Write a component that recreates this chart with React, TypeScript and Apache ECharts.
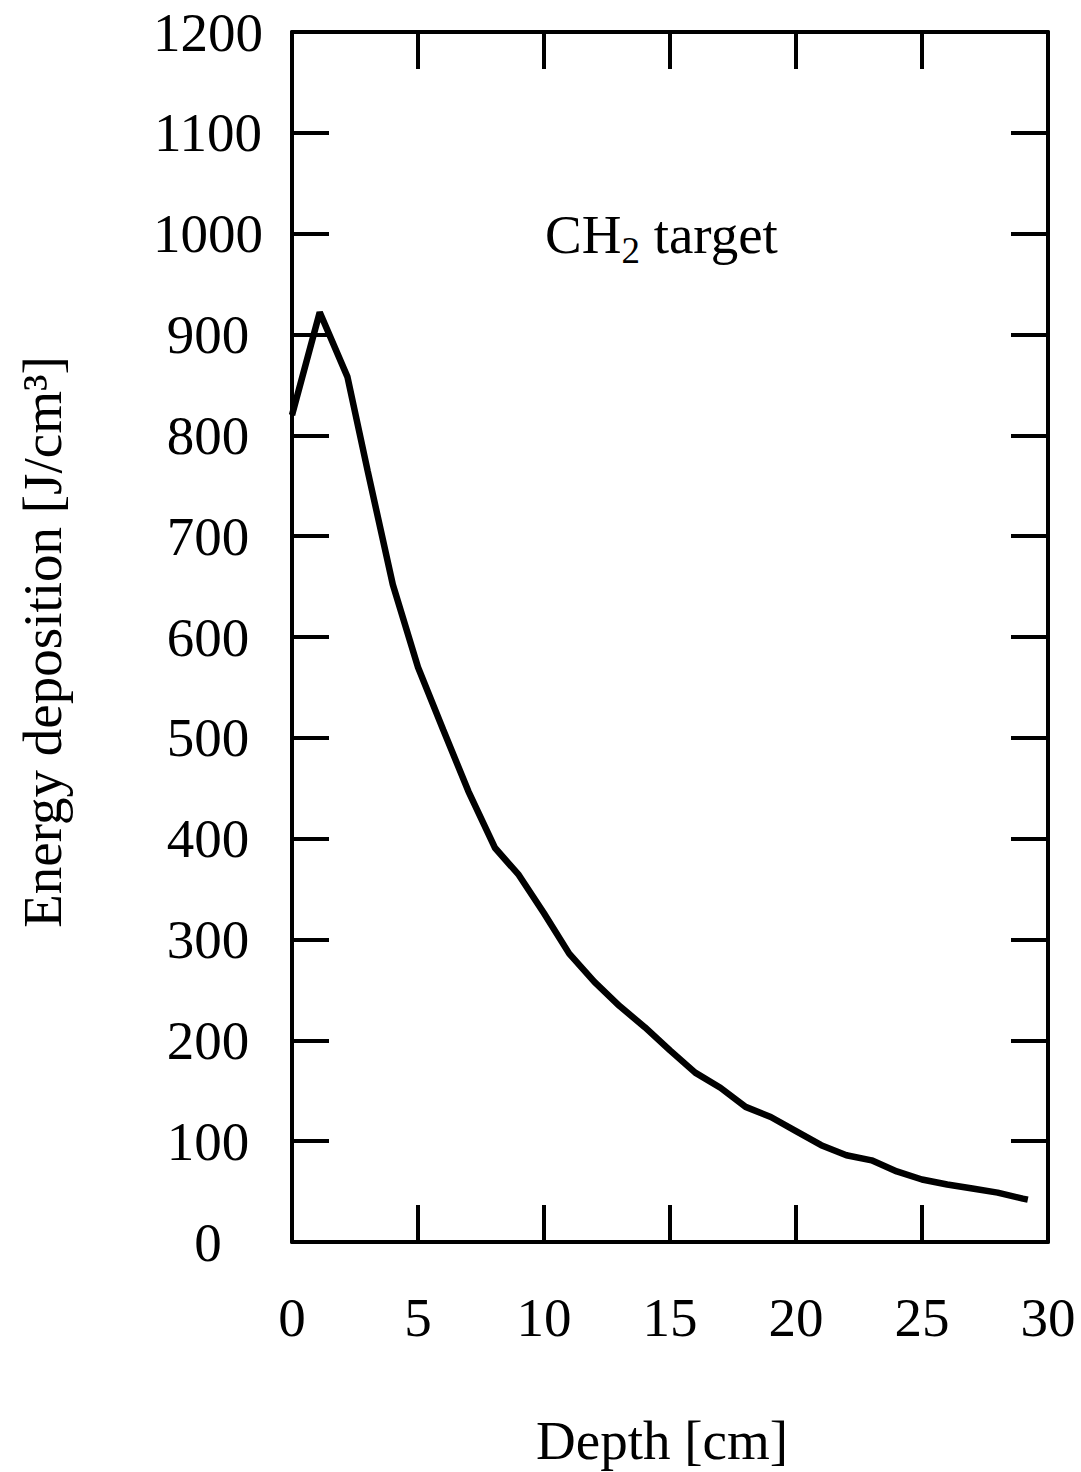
import React, { useEffect, useRef } from "react";
import * as echarts from "echarts";

const depth = [0, 1.1, 2.2, 3, 4, 5, 6, 7, 8.05, 9, 10, 11, 12, 13, 14, 15, 16, 17, 18, 19, 20, 21, 22, 23, 24, 25, 26, 27, 28, 29, 29.2];
const energy = [820, 922, 858, 765, 652, 570, 508, 447, 391, 364, 326, 286, 258, 234, 213, 190, 168, 153, 134, 124, 110, 96, 86, 81, 70, 62, 57, 53, 49, 43, 42];

const xTicks = { min: 0, max: 30, interval: 5 };
const yTicks = { min: 0, max: 1200, interval: 100 };

const xTitle = "Depth [cm]";
const yTitle = "Energy deposition [J/cm³]";
const note = { main: "CH", sub: "2", rest: " target" };

const FONT = "Liberation Serif, Times New Roman, serif";
const FS = 55;

export default function App() {
  const ref = useRef<HTMLDivElement>(null);
  useEffect(() => {
    if (!ref.current) return;
    const chart = echarts.init(ref.current, null, { renderer: "svg" });
    const axisCommon = {
      type: "value",
      axisLine: { show: true, onZero: false, lineStyle: { color: "#000", width: 4 } },
      axisTick: { show: true, inside: true, length: 37, lineStyle: { color: "#000", width: 4 } },
      splitLine: { show: false },
    };
    chart.setOption({
      animation: false,
      backgroundColor: "#fff",
      textStyle: { fontFamily: FONT },
      grid: { left: 292, top: 32, width: 756, height: 1210, containLabel: false },
      xAxis: [
        {
          ...axisCommon,
          position: "bottom",
          min: xTicks.min,
          max: xTicks.max,
          interval: xTicks.interval,
          axisLabel: { show: true, color: "#000", fontSize: FS, fontFamily: FONT, margin: 48, formatter: (v: number) => String(v) },
        },
        {
          ...axisCommon,
          position: "top",
          min: xTicks.min,
          max: xTicks.max,
          interval: xTicks.interval,
          axisLabel: { show: false },
        },
      ],
      yAxis: [
        {
          ...axisCommon,
          position: "left",
          min: yTicks.min,
          max: yTicks.max,
          interval: yTicks.interval,
          axisLabel: { show: true, color: "#000", fontSize: FS, fontFamily: FONT, margin: 84, align: "center", formatter: (v: number) => String(v) },
        },
        {
          ...axisCommon,
          position: "right",
          min: yTicks.min,
          max: yTicks.max,
          interval: yTicks.interval,
          axisLabel: { show: false },
        },
      ],
      series: [
        {
          type: "line",
          xAxisIndex: 0,
          yAxisIndex: 0,
          data: depth.map((d, i) => [d, energy[i]]),
          showSymbol: false,
          symbol: "none",
          lineStyle: { color: "#000", width: 6.5 },
          z: 3,
        },
      ],
      graphic: [
        {
          type: "text",
          x: 42,
          y: 642,
          rotation: Math.PI / 2,
          style: {
            text: yTitle,
            fontSize: FS,
            fontFamily: FONT,
            fill: "#000",
            align: "center",
            verticalAlign: "middle",
          },
        },
        {
          type: "text",
          x: 662,
          y: 1440,
          style: {
            text: xTitle,
            fontSize: FS,
            fontFamily: FONT,
            fill: "#000",
            align: "center",
            verticalAlign: "middle",
          },
        },
        {
          type: "text",
          x: 545,
          y: 234,
          style: {
            text: `{a|${note.main}}{s|${note.sub}}{a|${note.rest}}`,
            align: "left",
            verticalAlign: "middle",
            rich: {
              a: { fontSize: FS, fontFamily: FONT, fill: "#000", color: "#000", lineHeight: 70, verticalAlign: "middle" },
              s: { fontSize: 37, fontFamily: FONT, fill: "#000", color: "#000", lineHeight: 37, verticalAlign: "bottom" },
            },
          },
        },
      ],
    });
    return () => chart.dispose();
  }, []);
  return (
    <div
      ref={ref}
      style={{ position: "fixed", left: 0, top: 0, width: 1081, height: 1472, background: "#fff" }}
    />
  );
}
